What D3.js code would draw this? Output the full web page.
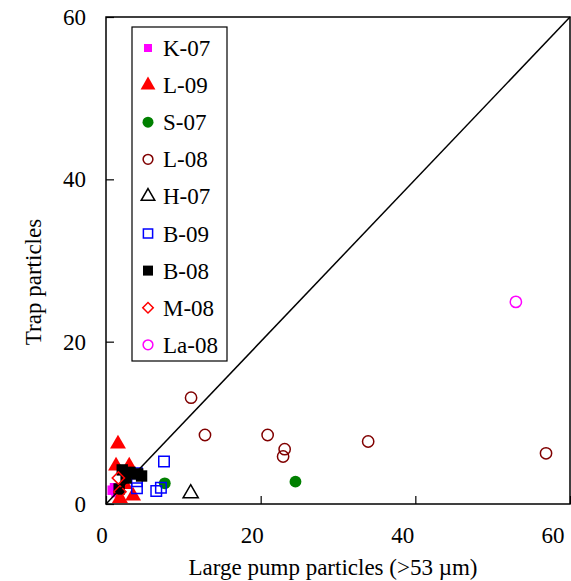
<!DOCTYPE html>
<html><head><meta charset="utf-8">
<script src="https://cdn.jsdelivr.net/npm/d3@7"></script>
<style>body{margin:0;background:#fff}svg{display:block}text{font-family:"Liberation Serif","Times New Roman",serif}</style>
</head><body>
<script>
const seriesNames = ["K-07","L-09","S-07","L-08","H-07","B-09","B-08","M-08","La-08"];
const K07_x = [0.8, 1.1, 1.3];
const K07_y = [1.7, 2.0, 1.4];
const L09_x = [1.55, 1.3, 3.0, 1.8, 3.5, 2.4];
const L09_y = [7.4, 4.7, 4.7, 0.7, 1.0, 2.4];
const S07_x = [7.6, 24.5];
const S07_y = [2.55, 2.75];
const L08_x = [11.0, 12.8, 20.9, 23.1, 22.9, 33.9, 56.9];
const L08_y = [13.1, 8.5, 8.5, 6.75, 5.85, 7.7, 6.25];
const H07_x = [10.95];
const H07_y = [1.3];
const B09_x = [7.5, 6.5, 7.1, 4.0, 4.0, 4.0];
const B09_y = [5.25, 1.6, 2.0, 3.8, 1.95, 2.8];
const B08_x = [2.1, 3.1, 4.1, 4.6, 2.6, 1.7];
const B08_y = [4.2, 3.9, 3.7, 3.45, 3.2, 1.85];
const M08_x = [1.6, 1.8];
const M08_y = [3.2, 1.5];
const La08_x = [53.0];
const La08_y = [24.9];
const xTicks = [0, 20, 40, 60];
const yTicks = [0, 20, 40, 60];

const W = 571, H = 581;
const m = {l:106, r:570, t:17, b:504};
const FS = 23;
const svg = d3.select("body").append("svg").attr("width", W).attr("height", H);
const x = d3.scaleLinear().domain([0, 60]).range([m.l, m.r]);
const y = d3.scaleLinear().domain([0, 60]).range([m.b, m.t]);

const styles = {
  "K-07": {shape:d3.symbolSquare, fill:"#ff00ff", stroke:"none", size:90, lsize:64, rot:0},
  "L-09": {shape:d3.symbolTriangle, fill:"#ff0000", stroke:"none", size:110, lsize:95, rot:0},
  "S-07": {shape:d3.symbolCircle, fill:"#008000", stroke:"none", size:110, lsize:95, rot:0},
  "L-08": {shape:d3.symbolCircle, fill:"none", stroke:"#800000", size:100, lsize:75, rot:0},
  "H-07": {shape:d3.symbolTriangle, fill:"none", stroke:"#000", size:100, lsize:80, rot:0},
  "B-09": {shape:d3.symbolSquare, fill:"none", stroke:"#0000ff", size:110, lsize:85, rot:0},
  "B-08": {shape:d3.symbolSquare, fill:"#000", stroke:"none", size:130, lsize:100, rot:0},
  "M-08": {shape:d3.symbolSquare, fill:"none", stroke:"#ff0000", size:75, lsize:55, rot:45},
  "La-08": {shape:d3.symbolCircle, fill:"none", stroke:"#ff00ff", size:100, lsize:75, rot:0}
};
const data = {
  "K-07":[K07_x,K07_y],"L-09":[L09_x,L09_y],"S-07":[S07_x,S07_y],"L-08":[L08_x,L08_y],
  "H-07":[H07_x,H07_y],"B-09":[B09_x,B09_y],"B-08":[B08_x,B08_y],"M-08":[M08_x,M08_y],"La-08":[La08_x,La08_y]
};

// frame
svg.append("rect").attr("x", m.l).attr("y", m.t).attr("width", m.r-m.l).attr("height", m.b-m.t)
  .attr("fill","none").attr("stroke","#000").attr("stroke-width",1.5);

// inward ticks
const xa = svg.append("g").attr("transform",`translate(0,${m.b})`)
  .call(d3.axisBottom(x).tickValues(xTicks).tickSize(-8).tickFormat(""));
xa.select(".domain").remove();
xa.selectAll("line").attr("stroke-width",1.2);
const ya = svg.append("g").attr("transform",`translate(${m.l},0)`)
  .call(d3.axisLeft(y).tickValues(yTicks).tickSize(-8).tickFormat(""));
ya.select(".domain").remove();
ya.selectAll("line").attr("stroke-width",1.2);

// tick labels
svg.append("g").selectAll("text").data(xTicks).join("text")
  .attr("x", d => x(d) - 4 - d*0.215).attr("y", 543).attr("text-anchor","middle")
  .attr("font-size", FS).text(d => d);
svg.append("g").selectAll("text").data(yTicks).join("text")
  .attr("x", 86).attr("y", d => y(d) + 8).attr("text-anchor","end")
  .attr("font-size", FS).text(d => d);

// axis titles
svg.append("text").attr("x", 333).attr("y", 575).attr("text-anchor","middle")
  .attr("font-size", FS).text("Large pump particles (>53 µm)");
svg.append("text").attr("transform","translate(41,282) rotate(-90)").attr("text-anchor","middle")
  .attr("font-size", FS).text("Trap particles");

// points
seriesNames.forEach(n => {
  const s = styles[n], [xs, ys] = data[n];
  svg.append("g").selectAll("path").data(xs.map((v,i)=>[v, ys[i]])).join("path")
    .attr("transform", d => `translate(${x(d[0])},${y(d[1])}) rotate(${s.rot})`)
    .attr("d", d3.symbol().type(s.shape).size(s.size))
    .attr("fill", s.fill).attr("stroke", s.stroke).attr("stroke-width", 1.5);
});

// 1:1 line
svg.append("line").attr("x1", x(0)).attr("y1", y(0)).attr("x2", x(60)).attr("y2", y(60))
  .attr("stroke","#000").attr("stroke-width",1.5);

// legend
const lg = svg.append("g");
lg.append("rect").attr("x",132).attr("y",27).attr("width",95).attr("height",334)
  .attr("fill","#fff").attr("stroke","#000").attr("stroke-width",1.2);
seriesNames.forEach((n,i) => {
  const s = styles[n], cy = 48 + i*37.1;
  lg.append("path").attr("transform",`translate(148,${cy}) rotate(${s.rot})`)
    .attr("d", d3.symbol().type(s.shape).size(s.lsize))
    .attr("fill", s.fill).attr("stroke", s.stroke).attr("stroke-width",1.5);
  lg.append("text").attr("x",163).attr("y",cy+8).attr("font-size",FS).text(n);
});
</script>
</body></html>
